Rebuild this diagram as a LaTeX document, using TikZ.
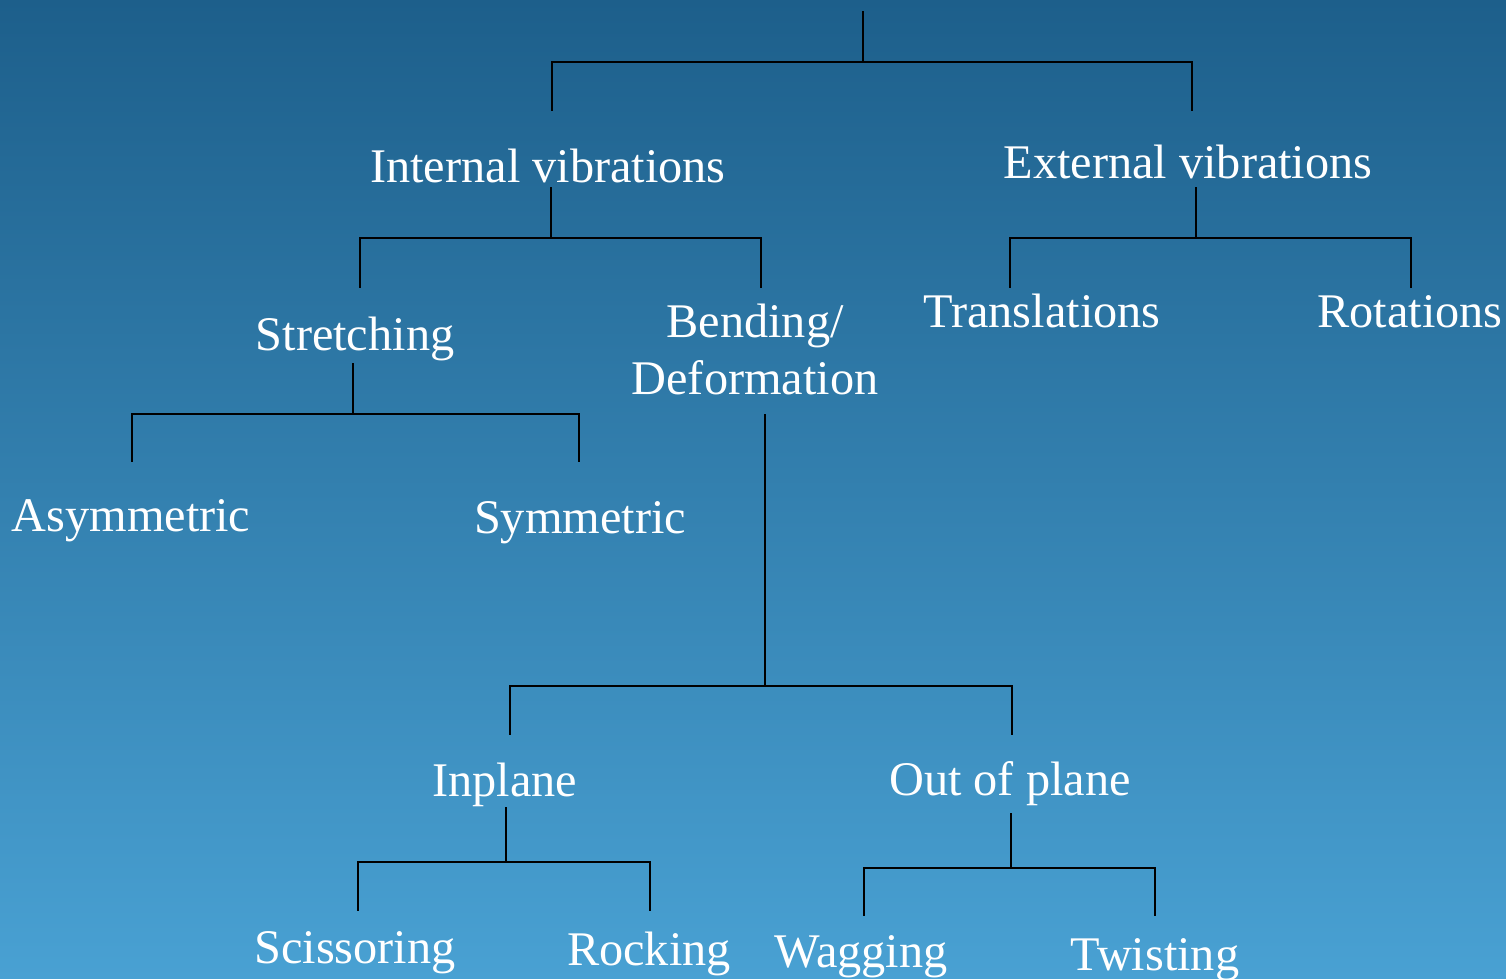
\documentclass[tikz,border=0pt]{standalone}
\usepackage{fontspec}
\setmainfont{Liberation Serif}
\definecolor{bgtop}{RGB}{29,95,139}
\definecolor{bgbot}{RGB}{73,161,211}
\tikzset{
  lbl/.style={text=white, font=\fontsize{48.3}{53}\selectfont, inner sep=0pt, anchor=base},
  conn/.style={draw=black, line width=1.9pt, line cap=rect}
}
\begin{document}
\begin{tikzpicture}[x=1pt,y=-1pt]
\shade[top color=bgtop, bottom color=bgbot] (0,0) rectangle (1506,979);
\useasboundingbox (0,0) rectangle (1506,979);
% labels
\node[lbl] (iv) at (548,182) {Internal vibrations};
\node[lbl] (ev) at (1188,178) {External vibrations};
\node[lbl] (st) at (355,350) {Stretching};
\node[lbl] (bd1) at (755,337) {Bending/};
\node[lbl] (bd) at (755,394) {Deformation};
\node[lbl] (tr) at (1042,327) {Translations};
\node[lbl] (ro) at (1410,327) {Rotations};
\node[lbl] (as) at (131,531) {Asymmetric};
\node[lbl] (sy) at (580,533) {Symmetric};
\node[lbl] (ip) at (505,796) {Inplane};
\node[lbl] (op) at (1010,795) {Out of plane};
\node[lbl] (sc) at (355,963) {Scissoring};
\node[lbl] (rk) at (649,965) {Rocking};
\node[lbl] (wg) at (861,967) {Wagging};
\node[lbl] (tw) at (1155,970) {Twisting};
% connector coordinates
\coordinate (root) at (863,12);
\coordinate (rootj) at (863,62);
\coordinate (ivt) at (552,110);
\coordinate (evt) at (1192,110);
\coordinate (ivb) at (551,188);
\coordinate (ivj) at (551,238);
\coordinate (stt) at (360,287);
\coordinate (bdt) at (761,287);
\coordinate (evb) at (1196,188);
\coordinate (evj) at (1196,238);
\coordinate (trt) at (1010,287);
\coordinate (rot) at (1411,287);
\coordinate (stb) at (353,364);
\coordinate (stj) at (353,414);
\coordinate (ast) at (132,461);
\coordinate (syt) at (579,461);
\coordinate (bdb) at (765,415);
\coordinate (bdj) at (765,686);
\coordinate (ipt) at (510,734);
\coordinate (opt) at (1012,734);
\coordinate (ipb) at (506,808);
\coordinate (ipj) at (506,862);
\coordinate (sct) at (358,910);
\coordinate (rkt) at (650,910);
\coordinate (opb) at (1011,814);
\coordinate (opj) at (1011,868);
\coordinate (wgt) at (864,915);
\coordinate (twt) at (1155,915);
% connectors
\draw[conn] (root) -- (rootj);
\draw[conn] (ivt) |- (rootj) -| (evt);
\draw[conn] (ivb) -- (ivj);
\draw[conn] (stt) |- (ivj) -| (bdt);
\draw[conn] (evb) -- (evj);
\draw[conn] (trt) |- (evj) -| (rot);
\draw[conn] (stb) -- (stj);
\draw[conn] (ast) |- (stj) -| (syt);
\draw[conn] (bdb) -- (bdj);
\draw[conn] (ipt) |- (bdj) -| (opt);
\draw[conn] (ipb) -- (ipj);
\draw[conn] (sct) |- (ipj) -| (rkt);
\draw[conn] (opb) -- (opj);
\draw[conn] (wgt) |- (opj) -| (twt);
\end{tikzpicture}
\end{document}
